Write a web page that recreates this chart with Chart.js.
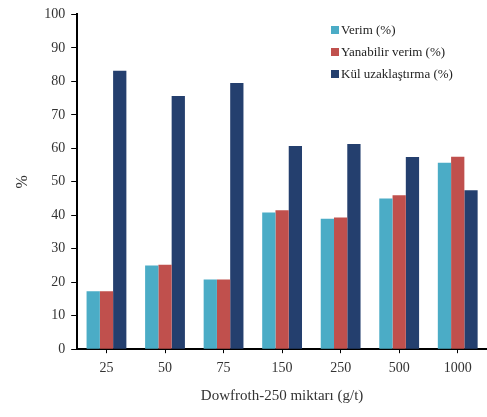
<!DOCTYPE html>
<html>
<head>
<meta charset="utf-8">
<script src="https://cdn.jsdelivr.net/npm/chart.js@4"></script>
<style>
  html, body { margin: 0; padding: 0; background: #fff; }
  #wrap { position: relative; width: 487px; height: 417px; }
  #legend { position: absolute; left: 331px; top: 19px; font-family: "Liberation Serif", serif; font-size: 13px; color: #222; }
  #legend div { height: 22px; line-height: 22px; white-space: nowrap; }
  #legend span { display: inline-block; width: 8px; height: 8px; margin-right: 2px; }
</style>
</head>
<body>
<div id="wrap">
  <canvas id="grafik" width="487" height="417"></canvas>
  <div id="legend"></div>
</div>
<script>
const kategoriler = ['25', '50', '75', '150', '250', '500', '1000'];
const verim = [17.3, 25.0, 20.8, 40.8, 39.0, 45.0, 55.7];
const yanabilirVerim = [17.3, 25.2, 20.8, 41.5, 39.3, 46.0, 57.5];
const kulUzaklastirma = [83.2, 75.6, 79.5, 60.7, 61.3, 57.4, 47.5];

const ctx = document.getElementById('grafik');
const yazi = { family: '"Liberation Serif", serif', size: 14 };

const grafik = new Chart(ctx, {
  type: 'bar',
  data: {
    labels: kategoriler,
    datasets: [
      { label: 'Verim (%)', data: verim, backgroundColor: '#4BACC6' },
      { label: 'Yanabilir verim (%)', data: yanabilirVerim, backgroundColor: '#C0504D' },
      { label: 'Kül uzaklaştırma (%)', data: kulUzaklastirma, backgroundColor: '#243F6E' }
    ]
  },
  options: {
    responsive: false,
    animation: false,
    layout: { padding: { top: -3, right: 0, left: 9, bottom: 8 } },
    datasets: { bar: { categoryPercentage: 0.68, barPercentage: 1.0 } },
    plugins: { legend: { display: false }, tooltip: { enabled: false } },
    scales: {
      x: {
        grid: { drawOnChartArea: false, drawTicks: true, tickLength: 4, offset: false, color: '#000' },
        border: { color: '#000', width: 2 },
        ticks: { color: '#333', font: yazi, padding: 7 },
        title: { display: true, text: 'Dowfroth-250 miktarı (g/t)', color: '#333', font: { family: '"Liberation Serif", serif', size: 15 }, padding: { top: 3 } }
      },
      y: {
        min: 0, max: 100,
        grid: { drawOnChartArea: false, drawTicks: true, tickLength: 6, color: '#000' },
        border: { color: '#000', width: 2 },
        ticks: { stepSize: 10, color: '#333', font: yazi, padding: 6 },
        title: { display: true, text: '%', color: '#333', font: { family: '"Liberation Serif", serif', size: 16 }, padding: { bottom: 6 } }
      }
    }
  }
});

// HTML lejant
const lejant = document.getElementById('legend');
grafik.data.datasets.forEach(function (ds) {
  const satir = document.createElement('div');
  const kutu = document.createElement('span');
  kutu.style.background = ds.backgroundColor;
  satir.appendChild(kutu);
  satir.appendChild(document.createTextNode(ds.label));
  lejant.appendChild(satir);
});
</script>
</body>
</html>
